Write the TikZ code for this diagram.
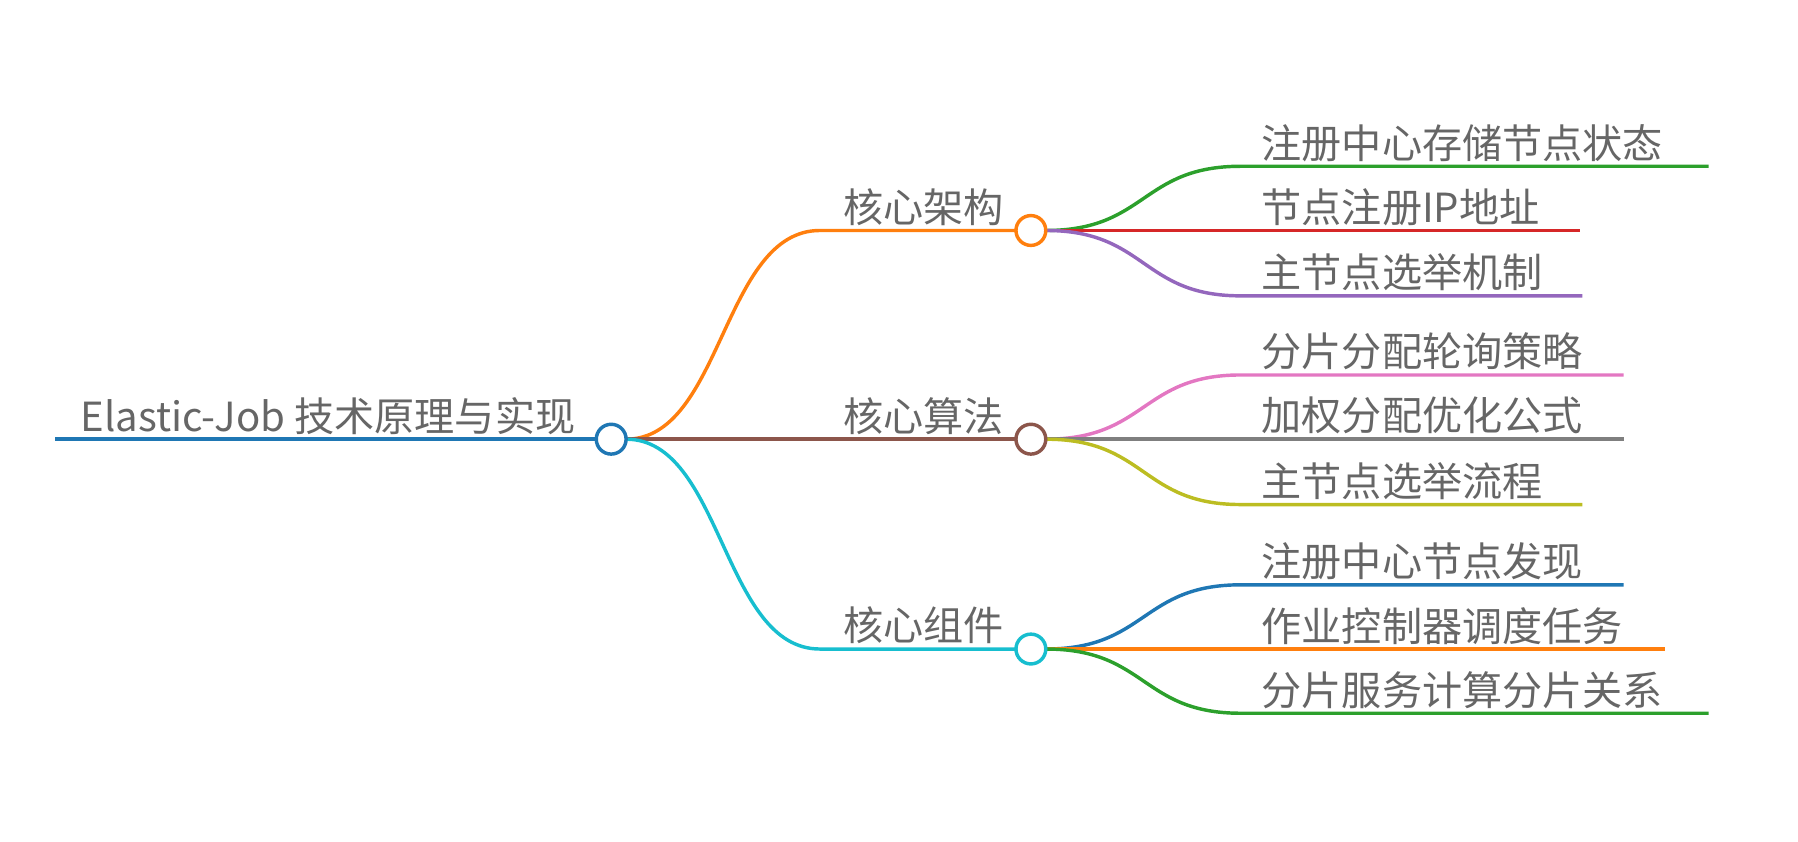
\documentclass[tikz,border=0pt]{standalone}
\usepackage{fontspec}
\setmainfont{Noto Sans CJK SC}
\begin{document}
\begin{tikzpicture}[x=1pt,y=-1pt,
  lbl/.style={anchor=south west,inner sep=0pt,text=black!60,font=\fontsize{35}{40}\selectfont},
  dot/.style={circle,draw,fill=white,line width=3pt,minimum size=26pt,inner sep=0pt},
  ln/.style={line width=3pt}]
\useasboundingbox (0,0) rectangle (1568,734);
\definecolor{cBlue}{HTML}{1F77B4}\definecolor{cOrange}{HTML}{FF7F0E}
\definecolor{cGreen}{HTML}{2CA02C}\definecolor{cRed}{HTML}{D62728}
\definecolor{cPurple}{HTML}{9467BD}\definecolor{cBrown}{HTML}{8C564B}
\definecolor{cPink}{HTML}{E377C2}\definecolor{cGray}{HTML}{7F7F7F}
\definecolor{cOlive}{HTML}{BCBD22}\definecolor{cCyan}{HTML}{17BECF}
% level 2 (drawn first, under the circles)
\foreach \p/\py/\k/\y/\e/\c/\t in {
 a/201/1/145/1490/cGreen/注册中心存储节点状态, a/201/2/201/1378/cRed/节点注册IP地址, a/201/3/258/1380/cPurple/主节点选举机制,
 b/383/1/327/1416/cPink/分片分配轮询策略, b/383/2/383/1416/cGray/加权分配优化公式, b/383/3/440/1380/cOlive/主节点选举流程,
 c/566/1/510/1416/cBlue/注册中心节点发现, c/566/2/566/1452/cOrange/作业控制器调度任务, c/566/3/622/1490/cGreen/分片服务计算分片关系}{
  \coordinate (\p\k o) at (912,\py);
  \coordinate (\p\k s) at (1082,\y);
  \coordinate (\p\k e) at (\e,\y);
  \draw[ln,\c] (\p\k o) .. controls (1000,\py) and (995,\y) .. (\p\k s) -- (\p\k e);
  \node[lbl] (\p\k t) at (1100,\y-4) {\t};
}
% root
\coordinate (r0) at (48,383);
\foreach \n/\y/\c/\t in {a/201/cOrange/核心架构,b/383/cBrown/核心算法,c/566/cCyan/核心组件}{
  \coordinate (\n s) at (715,\y);
  \coordinate (\n o) at (546,383);
  \draw[ln,\c] (\n o) .. controls (630,383) and (630,\y) .. (\n s) -- (886,\y);
  \node[dot,draw=\c] (\n) at (899,\y) {};
  \node[lbl] (\n t) at (735,\y-4) {\t};
}
\draw[ln,cBlue] (r0) -- (520,383);
\node[dot,draw=cBlue] (root) at (533,383) {};
\node[lbl] (rt) at (70,379) {Elastic-Job 技术原理与实现};
\end{tikzpicture}
\end{document}
